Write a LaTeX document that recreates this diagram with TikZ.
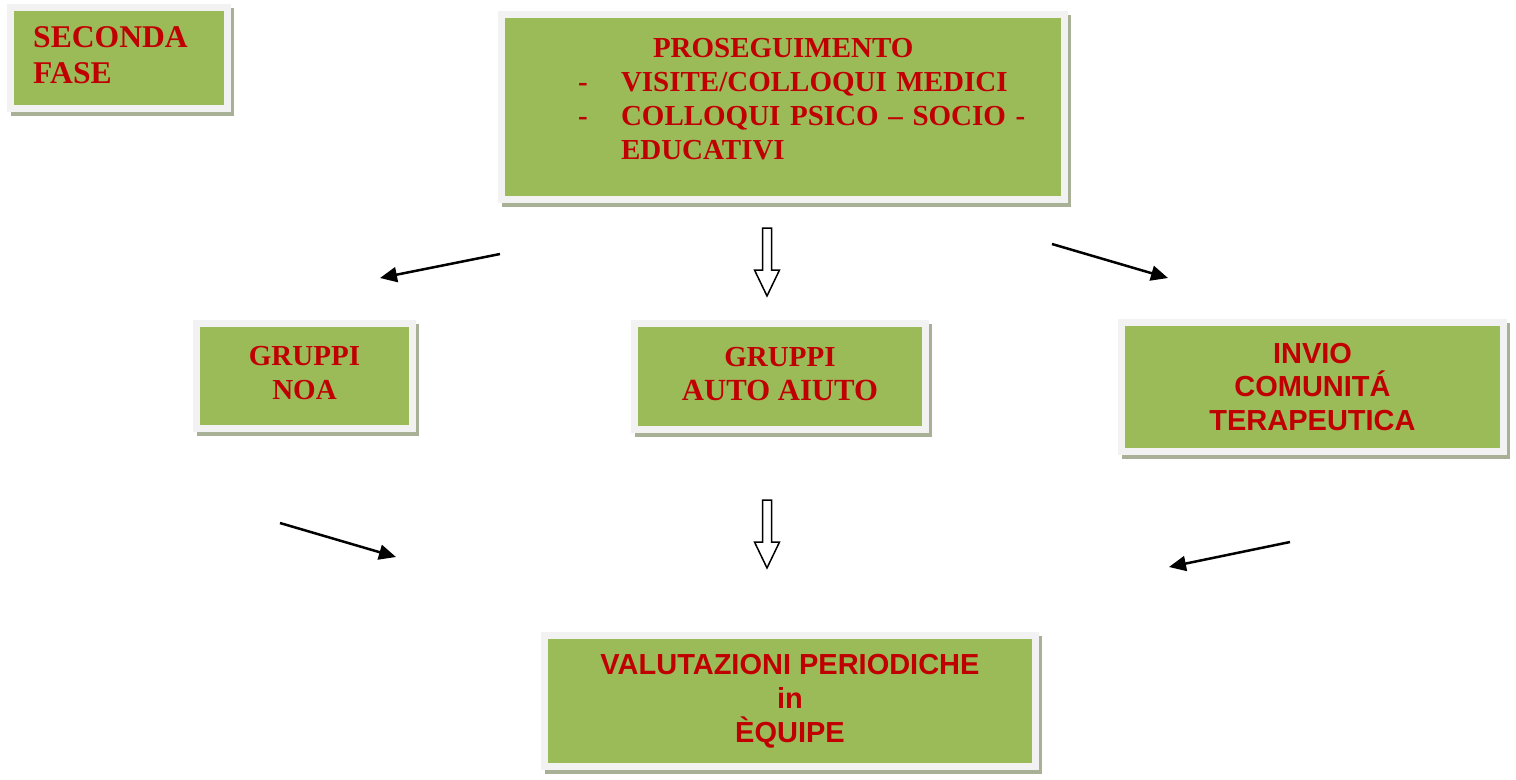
\documentclass[tikz,border=0pt]{standalone}
\usepackage{fontspec}
\setmainfont{Liberation Serif}
\setsansfont{Liberation Sans}
\usepackage{tikz}
\definecolor{phaseGreen}{RGB}{155, 187, 89}
\definecolor{phaseRed}{RGB}{192, 0, 0}
\definecolor{frameGrey}{RGB}{242, 242, 242}
\definecolor{shadowGrey}{RGB}{168, 177, 150}
\usetikzlibrary{arrows.meta, shadows}

\tikzset{
    phasebox/.style={
        rectangle,
        fill=frameGrey,
        inner sep=0pt,
        text=phaseRed,
        align=center,
        drop shadow={shadow xshift=0.07cm, shadow yshift=-0.08cm, fill=shadowGrey, opacity=1},
        path picture={
            \fill[phaseGreen] ([xshift=0.14cm, yshift=0.14cm]path picture bounding box.south west)
                rectangle ([xshift=-0.14cm, yshift=-0.14cm]path picture bounding box.north east);
        }
    },
    serifbox/.style={phasebox, font=\bfseries\fontsize{16.5}{19.3}\selectfont},
    sansbox/.style={phasebox, font=\sffamily\bfseries\fontsize{16.5}{19.3}\selectfont},
    thinarrow/.style={-{Triangle[length=0.34cm, width=0.3cm]}, line width=0.05cm},
    hollowarrow/.style={draw=black, fill=white, line width=0.03cm, line join=miter}
}

\begin{document}
\begin{tikzpicture}[x=0.02cm, y=-0.02cm]
    \useasboundingbox (0,0) rectangle (1516,779);

    % the boxes
    \node[
        serifbox,
        minimum width=4.48cm,
        minimum height=2.16cm,
        font=\bfseries\fontsize{18}{20.6}\selectfont,
        align=left
    ] (fase) at (119,58) {SECONDA\hspace*{0.34cm}\\FASE\rule[-0.12cm]{0pt}{0pt}};

    \node[
        serifbox,
        minimum width=11.4cm,
        minimum height=3.84cm,
        text width=10.4cm,
        align=left
    ] (prosegue) at (783,107) {
        \hspace*{2.6cm}PROSEGUIMENTO\\
        \hspace*{1.1cm}\makebox[0.86cm][l]{-}VISITE/COLLOQUI MEDICI\\
        \hspace*{1.1cm}\makebox[0.86cm][l]{-}COLLOQUI PSICO – SOCIO -\\
        \hspace*{1.96cm}EDUCATIVI\rule[-0.32cm]{0pt}{0pt}
    };

    \node[serifbox, minimum width=4.46cm, minimum height=2.24cm] (noa) at (304.5,376) {GRUPPI\\NOA\rule[-0.12cm]{0pt}{0pt}};
    \node[serifbox, minimum width=5.96cm, minimum height=2.26cm] (aiuto) at (780,376.5) {GRUPPI\\{\fontsize{17.5}{19.3}\selectfont AUTO AIUTO}\rule[-0.12cm]{0pt}{0pt}};
    \node[sansbox, minimum width=7.78cm, minimum height=2.72cm] (invio) at (1312.5,387) {INVIO\\COMUNITÁ\\TERAPEUTICA};
    \node[sansbox, minimum width=9.96cm, minimum height=2.76cm] (valuta) at (790,701) {VALUTAZIONI PERIODICHE\\in\\ÈQUIPE};

    % arrows between the rows
    \coordinate (noaFrom) at (500,254);
    \coordinate (noaTo) at (380,278);
    \coordinate (invioFrom) at (1052,244);
    \coordinate (invioTo) at (1168,278);
    \coordinate (noaOut) at (280,523);
    \coordinate (noaIn) at (396,557);
    \coordinate (invioOut) at (1290,542);
    \coordinate (invioIn) at (1169,567);
    \draw[thinarrow] (noaFrom) -- (noaTo);
    \draw[thinarrow] (invioFrom) -- (invioTo);
    \draw[thinarrow] (noaOut) -- (noaIn);
    \draw[thinarrow] (invioOut) -- (invioIn);

    \coordinate (aiutoFrom) at (767,228);
    \coordinate (aiutoOut) at (767,500);
    \draw[hollowarrow] (aiutoFrom) ++(-4.5,0) -- ++(9,0) -- ++(0,42) -- ++(8,0) -- ++(-12.5,26) -- ++(-12.5,-26) -- ++(8,0) -- cycle;
    \draw[hollowarrow] (aiutoOut) ++(-4.5,0) -- ++(9,0) -- ++(0,42) -- ++(8,0) -- ++(-12.5,26) -- ++(-12.5,-26) -- ++(8,0) -- cycle;
\end{tikzpicture}
\end{document}
